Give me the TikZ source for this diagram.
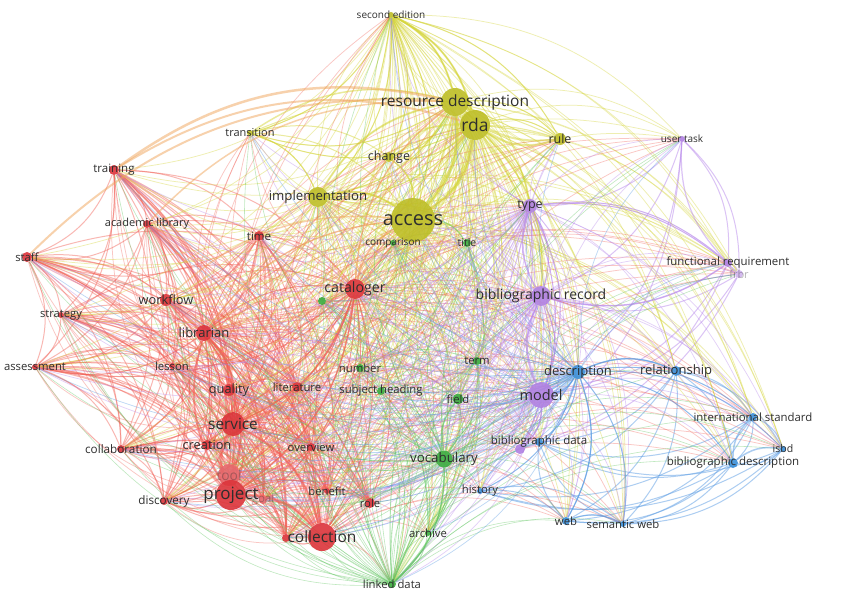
\documentclass[tikz,border=0pt]{standalone}
\usepackage{fontspec}
\setmainfont{Open Sans}
\usetikzlibrary{backgrounds}
\definecolor{nR}{RGB}{220,52,58}
\definecolor{nY}{RGB}{190,190,38}
\definecolor{nG}{RGB}{58,172,62}
\definecolor{nP}{RGB}{176,128,226}
\definecolor{nB}{RGB}{58,142,216}
\definecolor{cR}{RGB}{242,96,86}
\definecolor{cY}{RGB}{214,214,60}
\definecolor{cG}{RGB}{96,198,96}
\definecolor{cP}{RGB}{184,136,236}
\definecolor{cB}{RGB}{90,156,228}
\definecolor{cO}{RGB}{240,165,90}
\newcommand\mkn[5]{\node[vnode,fill=#2,minimum size=#3pt] (#1) at (#4,#5) {};}
\newcommand\mkl[3]{\node[lab,font=\fontsize{#2pt}{#2pt}\selectfont] (#1-t) at (#1) {#3};}
\newcommand\mkfl[3]{\node[lab,text opacity=.35,font=\fontsize{#2pt}{#2pt}\selectfont] (#1-t) at (#1) {#3};}
\newcommand\mkclique[2]{\foreach \a [count=\i] in {#1} {\foreach \b [count=\j] in {#1} {\ifnum\j>\i \draw[#2] (\a) to[bend left=24] (\b);\fi}}}
\def\allnodes{sec,rd,rda,tra,chg,rul,imp,acc,ut,typ,fr,frbr,br,mod,bd,cmp,tit,gA,num,trm,sh,fld,voc,arc,ld,des,rel,ist,isbd,bde,his,web,sw,bA,trn,al,tim,stf,wf,str,lib,cat,ass,les,qua,lit,ser,cre,clb,ovr,tool,prj,goal,ben,role,dis,coll,rA}
\newcommand\mkhub[3]{\foreach \b [count=\j] in \allnodes {\ifnum\j=#3\else \draw[#2] (#1) to[bend left=24] (\b);\fi}}
\begin{document}
\begin{tikzpicture}[x=1pt,y=-1pt,
  vnode/.style={circle,inner sep=0pt,fill opacity=.9},
  lab/.style={inner sep=0pt,text=black!82},
  eR/.style={draw=cR,line width=1pt,opacity=.45},
  eY/.style={draw=cY,line width=1pt,opacity=.5},
  eG/.style={draw=cG,line width=.8pt,opacity=.5},
  eP/.style={draw=cP,line width=1pt,opacity=.5},
  eB/.style={draw=cB,line width=1pt,opacity=.5},
  hR/.style={draw=cR,line width=.75pt,opacity=.35},
  hY/.style={draw=cY,line width=.75pt,opacity=.4},
  hG/.style={draw=cG,line width=.6pt,opacity=.4},
  hP/.style={draw=cP,line width=.7pt,opacity=.4},
  hB/.style={draw=cB,line width=.7pt,opacity=.4}]
\useasboundingbox (0,0) rectangle (850,597);
% nodes
\mkn{sec}{nY}{6}{391}{15}
\mkn{rd}{nY}{28}{455}{102}
\mkn{rda}{nY}{30}{475}{125}
\mkn{tra}{nY}{6}{250}{133}
\mkn{chg}{nY}{10}{389}{157}
\mkn{rul}{nY}{12}{560}{139}
\mkn{imp}{nY}{20}{318}{197}
\mkn{acc}{nY}{44}{413}{220}
\mkn{ut}{nP}{6}{682}{139}
\mkn{typ}{nP}{14}{530}{206}
\mkn{fr}{nP}{8}{728}{263}
\mkn{frbr}{nP!60}{8}{739}{274}
\mkn{br}{nP}{20}{541}{296}
\mkn{mod}{nP}{26}{541}{395}
\mkn{bd}{nP}{10}{520}{449}
\mkn{cmp}{nG}{6}{393}{243}
\mkn{tit}{nG}{8}{467}{243}
\mkn{gA}{nG}{8}{322}{301}
\mkn{num}{nG}{8}{360}{368}
\mkn{trm}{nG}{8}{477}{361}
\mkn{sh}{nG}{8}{381}{391}
\mkn{fld}{nG}{11}{458}{399}
\mkn{voc}{nG}{17}{444}{459}
\mkn{arc}{nG}{6}{428}{533}
\mkn{ld}{nG}{8}{392}{584}
\mkn{des}{nB}{14}{578}{372}
\mkn{rel}{nB}{10}{676}{371}
\mkn{ist}{nB}{8}{753}{417}
\mkn{isbd}{nB}{6}{783}{449}
\mkn{bde}{nB}{10}{733}{463}
\mkn{his}{nB}{6}{480}{491}
\mkn{web}{nB}{8}{566}{521}
\mkn{sw}{nB}{6}{623}{524}
\mkn{bA}{nB}{8}{539}{442}
\mkn{trn}{nR}{10}{114}{170}
\mkn{al}{nR}{8}{147}{224}
\mkn{tim}{nR}{10}{259}{236}
\mkn{stf}{nR}{10}{27}{257}
\mkn{wf}{nR}{12}{166}{300}
\mkn{str}{nR}{6}{61}{315}
\mkn{lib}{nR}{16}{204}{333}
\mkn{cat}{nR}{20}{355}{289}
\mkn{ass}{nR}{6}{35}{367}
\mkn{les}{nR}{6}{172}{366}
\mkn{qua}{nR}{12}{229}{390}
\mkn{lit}{nR}{10}{297}{387}
\mkn{ser}{nR}{24}{233}{424}
\mkn{cre}{nR}{10}{207}{445}
\mkn{clb}{nR}{8}{121}{449}
\mkn{ovr}{nR}{8}{311}{447}
\mkn{tool}{nR!75}{22}{229}{475}
\mkn{prj}{nR}{30}{231}{495}
\mkn{goal}{nR!75}{8}{263}{500}
\mkn{ben}{nR}{6}{327}{491}
\mkn{role}{nR}{10}{370}{503}
\mkn{dis}{nR}{8}{164}{501}
\mkn{coll}{nR}{28}{322}{537}
\mkn{rA}{nR}{8}{286}{538}
% edges
\begin{pgfonlayer}{background}
\fill[white] (0,0) rectangle (850,597);
\mkclique{trn,al,tim,stf,wf,str,lib,cat,ass,les,qua,lit,ser,cre,clb,ovr,tool,prj,goal,ben,role,dis,coll,rA}{eR}
\mkclique{sec,rd,rda,tra,chg,rul,imp,acc}{eY}
\mkclique{ut,typ,fr,frbr,br,mod,bd}{eP}
\mkclique{cmp,tit,gA,num,trm,sh,fld,voc,arc,ld}{eG}
\mkclique{des,rel,ist,isbd,bde,his,web,sw,bA}{eB}
\mkhub{acc}{hY}{8}
\mkhub{rda}{hY}{3}
\mkhub{rd}{hY}{2}
\mkhub{imp}{hY}{7}
\mkhub{sec}{hY}{1}
\mkhub{prj}{hR}{52}
\mkhub{coll}{hR}{57}
\mkhub{ser}{hR}{47}
\mkhub{cat}{hR}{42}
\mkhub{lib}{hR}{41}
\mkhub{mod}{hP}{14}
\mkhub{br}{hP}{13}
\mkhub{typ}{hP}{10}
\mkhub{voc}{hG}{23}
\mkhub{ld}{hG}{25}
\mkhub{des}{hB}{26}
\foreach \a/\b/\w/\c in {rd/rda/5/cY, rd/acc/3.5/cY, rda/acc/3.5/cY, sec/rd/2/cY, sec/rda/2/cY,
  imp/acc/2/cY, imp/rd/2/cY, chg/acc/1.5/cY, rul/rda/2/cY, rul/rd/2/cY, tra/rd/1.5/cY, chg/rda/1.5/cY,
  tra/imp/1/cY, rda/typ/1.5/cY, rda/br/1.5/cY,
  trn/rd/2.5/cO, stf/rd/2/cO, trn/rda/2/cO, al/rd/1.5/cO, wf/acc/1.5/cO, lib/acc/1.5/cO, cat/acc/2/cO, cat/rd/1.5/cO,
  prj/coll/3/cR, prj/ser/3/cR, ser/coll/2.5/cR, lib/ser/2/cR, prj/lib/2/cR, tool/prj/2/cR, cat/prj/1.5/cR, cat/ser/1.5/cR,
  mod/br/2/cP, br/typ/1.5/cP, fr/ut/1.2/cP, mod/bd/1.5/cP, fr/br/1.5/cP, frbr/fr/1.5/cP,
  des/rel/1.5/cB, des/mod/1.5/cB, bde/ist/1.5/cB, bde/isbd/1.5/cB, web/sw/1.2/cB, des/web/1.2/cB,
  voc/fld/1.5/cG, voc/ld/1.5/cG, acc/tit/1.2/cG}
  {\draw[draw=\c,line width=\w pt,opacity=.5] (\a) to[bend left=24] (\b);}
\end{pgfonlayer}
% labels
\mkl{sec}{10}{second edition}
\mkl{rd}{15.5}{resource description}
\mkl{rda}{17.5}{rda}
\mkl{tra}{11}{transition}
\mkl{chg}{12.5}{change}
\mkl{rul}{12.5}{rule}
\mkl{imp}{13.2}{implementation}
\mkl{acc}{20}{access}
\mkl{ut}{10}{user task}
\mkl{typ}{12.5}{type}
\mkl{fr}{11.4}{functional requirement}
\mkfl{frbr}{11}{frbr}
\mkl{br}{14}{bibliographic record}
\mkl{mod}{14.5}{model}
\mkl{bA}{11.5}{bibliographic data}
\mkl{cmp}{10}{comparison}
\mkl{tit}{10.5}{title}
\mkl{num}{11.3}{number}
\mkl{trm}{11.3}{term}
\mkl{sh}{11.3}{subject heading}
\mkl{fld}{11.3}{field}
\mkl{voc}{13.3}{vocabulary}
\mkl{arc}{11.3}{archive}
\mkl{ld}{11.3}{linked data}
\mkl{des}{13}{description}
\mkl{rel}{13}{relationship}
\mkl{ist}{11.4}{international standard}
\mkl{isbd}{10.5}{isbd}
\mkl{bde}{11.5}{bibliographic description}
\mkl{his}{11.3}{history}
\mkl{web}{11.3}{web}
\mkl{sw}{11.3}{semantic web}
\mkl{trn}{11.5}{training}
\mkl{al}{11}{academic library}
\mkl{tim}{11.5}{time}
\mkl{stf}{11.3}{staff}
\mkl{wf}{12.8}{workflow}
\mkl{str}{11.2}{strategy}
\mkl{lib}{13}{librarian}
\mkl{cat}{14.2}{cataloger}
\mkl{ass}{11.3}{assessment}
\mkl{les}{11.3}{lesson}
\mkl{qua}{12.8}{quality}
\mkl{lit}{11.3}{literature}
\mkl{ser}{15.3}{service}
\mkl{cre}{12.8}{creation}
\mkl{clb}{11.7}{collaboration}
\mkl{ovr}{11.3}{overview}
\mkfl{tool}{13.8}{tool}
\mkl{prj}{17}{project}
\mkfl{goal}{11.5}{goal}
\mkl{ben}{11.3}{benefit}
\mkl{role}{11.3}{role}
\mkl{dis}{11.7}{discovery}
\mkl{coll}{15.5}{collection}
\end{tikzpicture}
\end{document}
